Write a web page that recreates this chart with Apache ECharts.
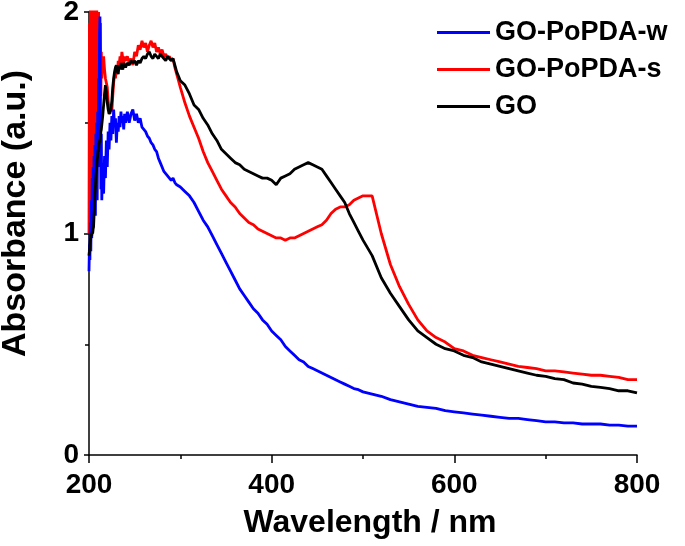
<!DOCTYPE html>
<html>
<head>
<meta charset="utf-8">
<script src="https://cdn.jsdelivr.net/npm/echarts@6/dist/echarts.min.js"></script>
<style>
  html, body { margin: 0; padding: 0; background: #fff; }
  #chart { width: 685px; height: 546px; }
</style>
</head>
<body>
<div id="chart"></div>
<script>
// wavelength grid (nm)
const wavelength = [
  200,200.5,201,201.5,202,202.5,203,203.5,204,204.5,205,205.5,206,206.5,207,207.5,208,208.5,209,209.5,210,210.5,211,211.5,212,212.5,213,213.5,214,
  215,216,217,218,219,220,221,222,223,224,225,226,227,228,229,230,231,232,233,234,235,236,237,238,239,240,
  242,244,246,248,250,252,254,256,258,260,262,264,266,268,270,272,274,276,278,280,282,284,286,288,290,292,294,296,298,300,
  305,310,315,320,325,330,335,340,345,350,355,360,365,370,375,380,385,390,395,400,
  405,410,415,420,425,430,435,440,445,450,455,460,465,470,475,480,485,490,495,500,
  510,520,530,540,550,560,570,580,590,600,610,620,630,640,650,660,670,680,690,700,
  710,720,730,740,750,760,770,780,790,800
];

const goW = [
  0.83,0.95,0.88,1.05,0.92,1.15,0.98,1.25,1.05,1.30,1.10,1.35,1.15,1.40,1.08,1.45,1.20,1.50,1.15,1.55,1.30,1.70,1.45,1.90,1.98,1.60,1.20,1.45,1.15,
  1.30,1.18,1.35,1.25,1.42,1.30,1.46,1.38,1.50,1.42,1.53,1.45,1.56,1.48,1.52,1.41,1.50,1.46,1.53,1.48,1.55,1.50,1.53,1.47,1.54,1.50,
  1.55,1.50,1.54,1.56,1.51,1.54,1.50,1.52,1.48,1.47,1.46,1.44,1.43,1.41,1.40,1.38,1.37,1.34,1.32,1.30,1.28,1.27,1.26,1.26,1.24,1.25,1.23,1.22,1.22,1.21,
  1.19,1.17,1.14,1.10,1.06,1.03,0.99,0.95,0.91,0.87,0.83,0.79,0.75,0.72,0.69,0.66,0.64,0.61,0.59,0.56,
  0.54,0.52,0.49,0.47,0.45,0.43,0.42,0.40,0.39,0.38,0.37,0.36,0.35,0.34,0.33,0.32,0.31,0.30,0.295,0.285,
  0.275,0.265,0.25,0.24,0.23,0.22,0.215,0.21,0.20,0.195,0.19,0.185,0.18,0.175,0.17,0.165,0.165,0.16,0.155,0.15,
  0.15,0.145,0.145,0.14,0.14,0.14,0.135,0.135,0.13,0.13
];

const goS = [
  1.00,1.95,1.05,2.1,1.10,2.05,1.02,1.98,1.15,2.1,1.20,2.0,1.30,2.1,1.25,1.95,1.35,2.05,1.40,1.9,1.50,2.0,1.55,1.85,1.60,1.95,1.62,1.82,1.70,
  1.78,1.80,1.74,1.70,1.68,1.66,1.60,1.56,1.54,1.57,1.55,1.62,1.68,1.72,1.70,1.75,1.72,1.78,1.76,1.80,1.77,1.82,1.79,1.76,1.80,1.78,
  1.80,1.77,1.79,1.76,1.82,1.80,1.85,1.83,1.87,1.84,1.86,1.82,1.85,1.87,1.84,1.86,1.82,1.84,1.81,1.83,1.80,1.81,1.79,1.80,1.78,1.79,1.75,1.72,1.69,1.66,
  1.59,1.53,1.48,1.43,1.37,1.32,1.28,1.24,1.20,1.17,1.14,1.12,1.09,1.07,1.05,1.04,1.02,1.01,1.00,0.99,
  0.98,0.98,0.97,0.98,0.98,0.99,1.00,1.01,1.02,1.03,1.04,1.06,1.09,1.11,1.12,1.12,1.13,1.15,1.16,1.17,
  1.17,1.00,0.86,0.76,0.68,0.61,0.56,0.53,0.51,0.48,0.47,0.45,0.44,0.43,0.42,0.41,0.40,0.395,0.39,0.38,
  0.38,0.375,0.37,0.365,0.36,0.36,0.355,0.35,0.34,0.34
];

const go = [
  0.90,0.92,0.95,0.97,0.98,1.00,0.99,1.01,1.00,1.02,1.03,1.08,1.12,1.17,1.21,1.25,1.28,1.30,1.33,1.35,1.38,1.37,1.40,1.42,1.41,1.44,1.46,1.47,1.49,
  1.53,1.58,1.63,1.67,1.64,1.59,1.56,1.54,1.55,1.56,1.60,1.66,1.70,1.73,1.75,1.76,1.73,1.72,1.76,1.74,1.77,1.75,1.74,1.77,1.76,1.75,
  1.77,1.76,1.78,1.77,1.78,1.76,1.78,1.77,1.79,1.80,1.79,1.81,1.82,1.80,1.79,1.81,1.80,1.79,1.81,1.80,1.79,1.78,1.80,1.79,1.78,1.79,1.76,1.73,1.71,1.69,
  1.67,1.63,1.58,1.56,1.52,1.49,1.45,1.42,1.38,1.36,1.34,1.32,1.31,1.29,1.28,1.27,1.26,1.25,1.25,1.24,
  1.22,1.25,1.26,1.27,1.29,1.30,1.31,1.32,1.31,1.30,1.29,1.26,1.23,1.20,1.17,1.14,1.09,1.05,1.01,0.97,
  0.90,0.80,0.73,0.67,0.61,0.56,0.53,0.50,0.48,0.47,0.45,0.44,0.42,0.41,0.40,0.39,0.38,0.37,0.36,0.355,
  0.345,0.34,0.325,0.32,0.31,0.305,0.30,0.29,0.29,0.28
];

const names = ['GO-PoPDA-w', 'GO-PoPDA-s', 'GO'];

function pairs(vals) {
  return wavelength.map((w, i) => [w, vals[i]]);
}

const font = '"Liberation Sans", Arial, sans-serif';
const chart = echarts.init(document.getElementById('chart'), null, { renderer: 'canvas' });

chart.setOption({
  animation: false,
  backgroundColor: '#fff',
  grid: { left: 89, right: 48, top: 12, bottom: 91, outerBoundsMode: 'none', containLabel: false },
  legend: {
    data: names,
    orient: 'vertical',
    left: 432,
    top: 14,
    itemWidth: 53,
    itemHeight: 3,
    itemGap: 10,
    icon: 'rect',
    textStyle: { fontFamily: font, fontWeight: 'bold', fontSize: 27, color: '#000' }
  },
  xAxis: {
    type: 'value',
    min: 200,
    max: 800,
    interval: 200,
    name: 'Wavelength / nm',
    nameLocation: 'middle',
    nameGap: 52,
    nameTextStyle: { fontFamily: font, fontWeight: 'bold', fontSize: 32, color: '#000', padding: [0, 0, 0, 14] },
    axisLine: { lineStyle: { color: '#000', width: 1.5 } },
    axisTick: { length: 8, lineStyle: { color: '#000', width: 1.5 } },
    minorTick: { show: true, splitNumber: 2, length: 4, lineStyle: { color: '#000', width: 1.5 } },
    axisLabel: { margin: 16, fontFamily: font, fontWeight: 'bold', fontSize: 28, color: '#000' },
    splitLine: { show: false }
  },
  yAxis: {
    type: 'value',
    min: 0,
    max: 2,
    interval: 1,
    name: 'Absorbance (a.u.)',
    nameLocation: 'middle',
    nameGap: 56,
    nameRotate: 90,
    nameTextStyle: { fontFamily: font, fontWeight: 'bold', fontSize: 34, color: '#000', padding: [0, 0, 0, 40] },
    axisLine: { show: true, lineStyle: { color: '#000', width: 1.5 } },
    axisTick: { show: true, length: 5, lineStyle: { color: '#000', width: 1.5 } },
    minorTick: { show: true, splitNumber: 2, length: 4, lineStyle: { color: '#000', width: 1.5 } },
    axisLabel: { margin: 10, fontFamily: font, fontWeight: 'bold', fontSize: 28, color: '#000' },
    splitLine: { show: false }
  },
  series: [
    {
      name: 'GO-PoPDA-s', type: 'line', data: pairs(goS), showSymbol: false, symbol: 'none',
      lineStyle: { color: '#ff0000', width: 2.8 }, itemStyle: { color: '#ff0000' }, z: 2
    },
    {
      name: 'GO-PoPDA-w', type: 'line', data: pairs(goW), showSymbol: false, symbol: 'none',
      lineStyle: { color: '#0000ff', width: 2.8 }, itemStyle: { color: '#0000ff' }, z: 3
    },
    {
      name: 'GO', type: 'line', data: pairs(go), showSymbol: false, symbol: 'none',
      lineStyle: { color: '#000000', width: 2.8 }, itemStyle: { color: '#000000' }, z: 4
    }
  ]
});
</script>
</body>
</html>
